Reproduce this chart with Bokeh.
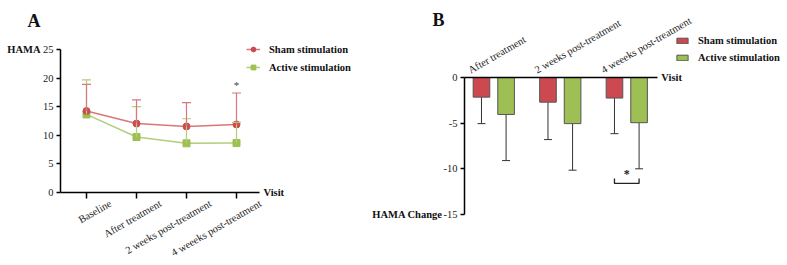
import math
from bokeh.plotting import figure
from bokeh.models import (ColumnDataSource, Whisker, TeeHead, Range1d,
                          LinearAxis, FixedTicker, Legend, LegendItem)
from bokeh.layouts import row
from bokeh.embed import file_html
from bokeh.resources import INLINE
from bokeh.core.properties import value

# ---------------- data ----------------
visits_a = ["Baseline", "After treatment", "2 weeks post-treatment", "4 weeeks post-treatment"]
sham_mean = [14.25, 12.05, 11.55, 11.9]
sham_sd = [4.65, 4.15, 4.15, 5.5]
active_mean = [13.65, 9.7, 8.6, 8.65]
active_sd = [6.05, 5.3, 4.3, 3.6]

visits_b = ["After treatment", "2 weeks post-treatment", "4 weeeks post-treatment"]
sham_change = [-2.15, -2.7, -2.25]
sham_change_sd = [2.9, 4.1, 3.9]
active_change = [-4.05, -5.05, -4.95]
active_change_sd = [5.05, 5.1, 5.05]

y_ticks_a = [0, 5, 10, 15, 20, 25]
y_ticks_b = [0, -5, -10, -15]

RED = "#cc4a4f"
RED_L = "#d9777a"
GREEN = "#9dbf53"
GREEN_L = "#b3cd7b"
SERIF = "Liberation Serif"
TXT = "#222222"
DARK = "#111111"


def style_axis(ax, tick_out):
    ax.axis_line_width = 1.5
    ax.major_tick_line_width = 1.5
    ax.major_tick_out = tick_out
    ax.major_tick_in = 0
    ax.minor_tick_out = 0
    ax.minor_tick_in = 0
    ax.major_label_standoff = 3
    ax.major_label_text_font = SERIF
    ax.major_label_text_font_size = "10.5px"
    ax.major_label_text_color = TXT


def base_fig(w, xr, yr):
    f = figure(width=w, height=265, output_backend="svg", toolbar_location=None,
               x_range=Range1d(*xr), y_range=Range1d(*yr),
               min_border=0, min_border_left=0, min_border_right=0,
               min_border_top=0, min_border_bottom=0,
               x_axis_location=None, y_axis_location=None)
    f.outline_line_color = None
    f.grid.visible = False
    f.background_fill_color = "white"
    f.border_fill_color = "white"
    return f


def txt(fig, x, y, s, size="10.5px", bold=False, align="left", baseline="middle",
        xo=0, yo=0, angle=0.0, color=DARK):
    fig.text(x=x, y=y, text=s, x_offset=xo, y_offset=yo, angle=angle,
             text_font=value(SERIF), text_font_size=size,
             text_font_style="bold" if bold else "normal", text_color=color,
             text_align=align, text_baseline=baseline)


# ---------------- panel A ----------------
XA0, XA1 = -0.52, 3.46
pa = base_fig(370, (-1.72, 5.68), (-12.76, 33.57))
xa = list(range(len(visits_a)))

yax = LinearAxis(bounds=(0, 25), ticker=FixedTicker(ticks=y_ticks_a), fixed_location=XA0)
style_axis(yax, 4)
pa.add_layout(yax, "left")

xax = LinearAxis(bounds=(XA0, XA1), ticker=FixedTicker(ticks=xa), fixed_location=0)
style_axis(xax, 6)
xax.major_label_text_font_size = "0px"
xax.major_label_text_alpha = 0
pa.add_layout(xax, "below")

src_act = ColumnDataSource(dict(x=xa, y=active_mean,
                                up=[m + s for m, s in zip(active_mean, active_sd)]))
src_sham = ColumnDataSource(dict(x=xa, y=sham_mean,
                                 up=[m + s for m, s in zip(sham_mean, sham_sd)]))

pa.add_layout(Whisker(source=src_act, base="x", lower="y", upper="up", dimension="height",
                      line_color=GREEN_L, line_width=1.2, level="glyph",
                      upper_head=TeeHead(size=9, line_color=GREEN_L, line_width=1.2),
                      lower_head=None))
la = pa.line("x", "y", source=src_act, line_color=GREEN_L, line_width=1.5)
ma = pa.scatter("x", "y", source=src_act, marker="square", size=7, fill_color=GREEN,
                line_color=GREEN)
pa.add_layout(Whisker(source=src_sham, base="x", lower="y", upper="up", dimension="height",
                      line_color=RED_L, line_width=1.2, level="glyph",
                      upper_head=TeeHead(size=9, line_color=RED_L, line_width=1.2),
                      lower_head=None))
ls = pa.line("x", "y", source=src_sham, line_color=RED_L, line_width=1.5)
ms = pa.scatter("x", "y", source=src_sham, marker="circle", size=7, fill_color=RED,
                line_color=RED)

txt(pa, [3], [sham_mean[3] + sham_sd[3]], ["*"], size="11px", align="center",
    baseline="bottom", yo=-2, color="#444444")

txt(pa, xa, [0] * len(xa), visits_a, size="10.5px", align="right", baseline="middle",
    xo=24, yo=10, angle=math.pi / 6, color=TXT)

txt(pa, [XA0], [25], ["HAMA"], bold=True, align="right", xo=-20)
txt(pa, [XA1], [0], ["Visit"], bold=True, align="left", xo=4)
txt(pa, [XA0], [25], ["A"], size="18px", bold=True, align="left", baseline="bottom",
    xo=-33, yo=-19)

lega = Legend(items=[LegendItem(label="Sham stimulation", renderers=[ls, ms]),
                     LegendItem(label="Active stimulation", renderers=[la, ma])],
              location=(246, 192), orientation="vertical", padding=0, margin=0,
              spacing=6, glyph_width=14, glyph_height=12, label_height=12,
              label_standoff=9, label_text_font=SERIF, label_text_font_size="10.5px",
              label_text_font_style="bold", label_text_color=DARK,
              border_line_color=None, background_fill_alpha=0)
pa.add_layout(lega)

# ---------------- panel B ----------------
XB0, XB1 = -0.44, 2.46
pb = base_fig(417, (-1.854, 4.417), (-20.59, 8.434))
xb = list(range(len(visits_b)))
off = 0.185
bw = 0.25

ybx = LinearAxis(bounds=(-15, 0), ticker=FixedTicker(ticks=y_ticks_b), fixed_location=XB0,
                 major_label_overrides={t: str(t) for t in y_ticks_b})
style_axis(ybx, 4)
pb.add_layout(ybx, "left")

xbx = LinearAxis(bounds=(XB0, XB1), ticker=FixedTicker(ticks=[]), fixed_location=0)
style_axis(xbx, 0)
xbx.major_label_text_font_size = "0px"
pb.add_layout(xbx, "below")

src_bs = ColumnDataSource(dict(x=[i - off for i in xb], top=[0] * len(xb), bottom=sham_change,
                               lo=[m - s for m, s in zip(sham_change, sham_change_sd)]))
src_ba = ColumnDataSource(dict(x=[i + off for i in xb], top=[0] * len(xb), bottom=active_change,
                               lo=[m - s for m, s in zip(active_change, active_change_sd)]))

for src in (src_bs, src_ba):
    pb.add_layout(Whisker(source=src, base="x", lower="lo", upper="bottom", dimension="height",
                          line_color="#333333", line_width=1, level="underlay",
                          lower_head=TeeHead(size=8, line_color="#333333", line_width=1),
                          upper_head=None))

bs = pb.vbar(x="x", top="top", bottom="bottom", width=bw, source=src_bs,
             fill_color=RED, line_color="#555555", line_width=1)
ba = pb.vbar(x="x", top="top", bottom="bottom", width=bw, source=src_ba,
             fill_color=GREEN, line_color="#555555", line_width=1)

# significance bracket at the last visit
k = 2
yb0 = active_change[k] - active_change_sd[k] - 1.6
pb.multi_line(xs=[[k - off, k - off, k + off, k + off]],
              ys=[[yb0 + 0.55, yb0, yb0, yb0 + 0.55]], line_color="#222222", line_width=1.3)
txt(pb, [k], [yb0], ["*"], size="12px", bold=True, align="center", baseline="bottom",
    yo=-2, color="#222222")

txt(pb, xb, [0] * len(xb), visits_b, size="10.5px", align="left", baseline="bottom",
    xo=-22, yo=-2, angle=math.pi / 6, color=TXT)

txt(pb, [XB1], [0], ["Visit"], bold=True, align="left", xo=4)
txt(pb, [XB0], [-15], ["HAMA Change"], bold=True, align="right", xo=-22)
txt(pb, [XB0], [0], ["B"], size="18px", bold=True, align="left", baseline="bottom",
    xo=-32, yo=-48)

legb = Legend(items=[LegendItem(label="Sham stimulation", renderers=[bs]),
                     LegendItem(label="Active stimulation", renderers=[ba])],
              location=(305, 202), orientation="vertical", padding=0, margin=0,
              spacing=5, glyph_width=14, glyph_height=7, label_height=12,
              label_standoff=9, label_text_font=SERIF, label_text_font_size="10.5px",
              label_text_font_style="bold", label_text_color=DARK,
              border_line_color=None, background_fill_alpha=0)
pb.add_layout(legb)

layout = row(pa, pb)
open("out.html", "w").write(file_html(layout, INLINE))
